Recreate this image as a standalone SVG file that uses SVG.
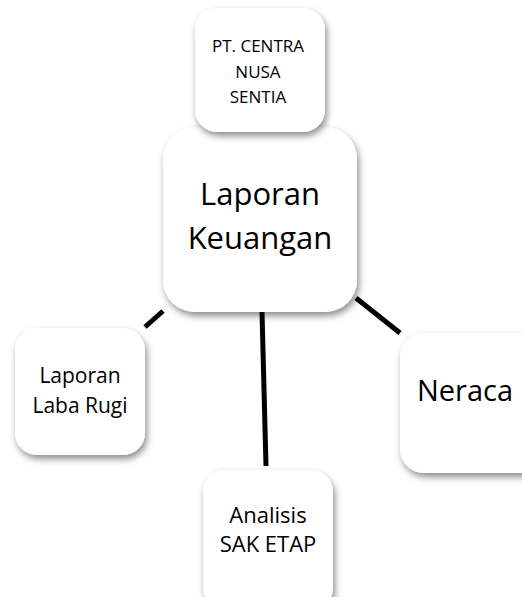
<svg xmlns="http://www.w3.org/2000/svg" width="522" height="597" viewBox="0 0 522 597">
<style>
.box{fill:#ffffff;filter:url(#sh)}
.t{font-family:"Open Sans","Noto Sans",sans-serif;fill:#000;text-anchor:middle}
.ln{stroke:#000;stroke-width:5;fill:none}
</style>
<defs>
<filter id="sh" x="-20%" y="-20%" width="150%" height="150%">
<feDropShadow dx="2" dy="4" stdDeviation="3.5" flood-color="#000" flood-opacity="0.45"/>
</filter>
</defs>
<rect width="522" height="597" fill="#ffffff"/>
<g id="connectors">
<line class="ln" x1="145" y1="327" x2="163" y2="311"/>
<line class="ln" x1="356" y1="298" x2="400" y2="333"/>
<line class="ln" x1="262" y1="312" x2="266" y2="466"/>
<line x1="260" y1="132" x2="260" y2="136" stroke="#888" stroke-width="3"/>
</g>
<g id="laporan-keuangan">
<rect class="box" x="163" y="127" width="194" height="185" rx="32"/>
<text class="t" x="260" y="205" font-size="31">Laporan</text>
<text class="t" x="260" y="249" font-size="31">Keuangan</text>
</g>
<g id="pt-centra">
<rect class="box" x="195" y="8" width="130" height="124" rx="22"/>
<text class="t" x="258" y="52" font-size="17">PT. CENTRA</text>
<text class="t" x="258" y="78" font-size="17">NUSA</text>
<text class="t" x="258" y="103" font-size="17">SENTIA</text>
</g>
<g id="laba-rugi">
<rect class="box" x="15" y="328" width="130" height="127" rx="22"/>
<text class="t" x="80" y="383" font-size="21">Laporan</text>
<text class="t" x="80" y="413" font-size="21">Laba Rugi</text>
</g>
<g id="neraca">
<rect class="box" x="400" y="333" width="150" height="140" rx="24"/>
<text class="t" x="465" y="401" font-size="29">Neraca</text>
</g>
<g id="analisis">
<rect class="box" x="203" y="470" width="130" height="140" rx="22"/>
<text class="t" x="268" y="523" font-size="22">Analisis</text>
<text class="t" x="268" y="552" font-size="22">SAK ETAP</text>
</g>
</svg>
